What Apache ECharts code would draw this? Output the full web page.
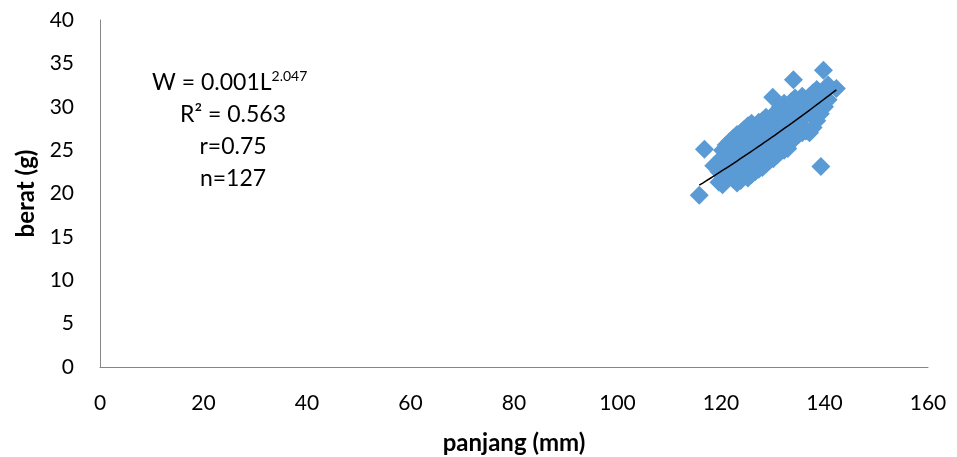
<!DOCTYPE html>
<html>
<head>
<meta charset="utf-8">
<script src="https://cdn.jsdelivr.net/npm/echarts@6/dist/echarts.min.js"></script>
<style>
  html, body { margin: 0; padding: 0; background: #fff; }
  #chart { width: 957px; height: 457px; }
</style>
</head>
<body>
<div id="chart"></div>
<script>
// Body length (mm) and weight (g) of each measured specimen, n = 127
const panjang = [
  115.8, 116.8, 118.6, 139.3, 134.0, 139.8, 142.3, 130.0,
  119.6, 119.6, 119.6,
  120.3, 120.3, 120.3, 120.3,
  121.0, 121.0, 121.0, 121.0,
  121.7, 121.7, 121.7, 121.7,
  122.4, 122.4, 122.4, 122.4,
  123.1, 123.1, 123.1, 123.1,
  123.8, 123.8, 123.8, 123.8, 123.8,
  124.5, 124.5, 124.5, 124.5,
  125.2, 125.2, 125.2, 125.2, 125.2,
  125.9, 125.9, 125.9, 125.9, 125.9,
  126.6, 126.6, 126.6, 126.6,
  127.3, 127.3, 127.3, 127.3, 127.3,
  128.0, 128.0, 128.0, 128.0, 128.0,
  128.7, 128.7, 128.7, 128.7,
  129.4, 129.4, 129.4, 129.4,
  130.1, 130.1, 130.1, 130.1,
  130.8, 130.8, 130.8, 130.8, 130.8,
  131.5, 131.5, 131.5, 131.5,
  132.2, 132.2, 132.2, 132.2, 132.2,
  132.9, 132.9, 132.9, 132.9,
  133.6, 133.6, 133.6, 133.6,
  134.3, 134.3, 134.3, 134.3,
  135.0, 135.0, 135.0,
  135.7, 135.7, 135.7, 135.7,
  136.4, 136.4, 136.4,
  137.1, 137.1, 137.1,
  137.8, 137.8, 137.8,
  138.5, 138.5, 138.5,
  139.2, 139.2,
  140.0, 140.0,
  140.7, 140.7
];
const berat = [
  19.8, 25.1, 23.2, 23.1, 33.1, 34.2, 32.1, 31.1,
  21.3, 22.5, 23.6,
  21.0, 22.0, 24.2, 25.0,
  21.5, 23.0, 24.0, 25.6,
  22.0, 23.4, 24.6, 26.0,
  21.6, 22.8, 25.3, 26.4,
  21.2, 22.3, 24.8, 26.8,
  21.5, 23.0, 24.2, 25.5, 27.0,
  22.0, 23.2, 26.0, 27.4,
  21.8, 22.8, 25.2, 26.6, 27.8,
  22.2, 23.5, 24.8, 26.0, 28.1,
  22.5, 23.8, 26.4, 27.6,
  22.8, 24.2, 25.5, 26.8, 28.2,
  23.0, 24.5, 25.8, 27.2, 28.4,
  23.4, 24.8, 27.5, 28.8,
  23.8, 25.2, 26.5, 27.8,
  24.0, 25.4, 28.0, 29.0,
  24.4, 25.8, 27.2, 28.5, 29.5,
  24.8, 26.2, 28.8, 30.0,
  25.0, 26.5, 28.0, 29.2, 30.4,
  25.2, 27.0, 28.4, 29.8,
  26.0, 27.4, 28.8, 30.6,
  26.4, 28.0, 29.5, 31.0,
  26.8, 28.4, 30.0,
  27.0, 28.8, 30.4, 31.2,
  27.2, 29.0, 30.8,
  27.0, 29.4, 31.2,
  27.6, 30.0, 31.6,
  28.4, 30.4, 32.0,
  29.2, 31.0,
  30.0, 31.8,
  30.8, 32.5
];

// Fitted power curve W = a * L^b (a shown rounded to 0.001 in the label)
const trendA = 0.00125;
const trendB = 2.047;

const statLines = ['R\u00B2 = 0.563', 'r=0.75', 'n=127'];

const points = panjang.map((x, i) => [x, berat[i]]);
const xMin = Math.min(...panjang), xMax = Math.max(...panjang);
const trend = [];
for (let k = 0; k <= 40; k++) {
  const L = xMin + (xMax - xMin) * k / 40;
  trend.push([L, trendA * Math.pow(L, trendB)]);
}

const FONT = 'Lato';
const chart = echarts.init(document.getElementById('chart'), null, { renderer: 'canvas' });
chart.setOption({
  animation: false,
  backgroundColor: '#ffffff',
  grid: { left: 100, right: 29, top: 20, bottom: 90, containLabel: false, outerBoundsMode: 'none' },
  xAxis: {
    type: 'value', min: 0, max: 160, interval: 20,
    name: 'panjang (mm)', nameLocation: 'middle', nameGap: 64,
    nameTextStyle: { fontFamily: FONT, fontSize: 24, fontWeight: 'bold', color: '#000' },
    axisLine: { show: true, lineStyle: { color: '#868686', width: 1 } },
    axisTick: { show: false },
    splitLine: { show: false },
    axisLabel: { fontFamily: FONT, fontSize: 21, color: '#000', margin: 26 }
  },
  yAxis: {
    type: 'value', min: 0, max: 40, interval: 5,
    name: 'berat (g)', nameLocation: 'middle', nameGap: 62, nameRotate: 90,
    nameTextStyle: { fontFamily: FONT, fontSize: 24, fontWeight: 'bold', color: '#000' },
    axisLine: { show: true, lineStyle: { color: '#868686', width: 1 } },
    axisTick: { show: false },
    splitLine: { show: false },
    axisLabel: { fontFamily: FONT, fontSize: 21, color: '#000', margin: 26 }
  },
  series: [
    {
      type: 'scatter',
      data: points,
      symbol: 'diamond',
      symbolSize: 19,
      itemStyle: { color: '#5B9BD5', opacity: 1 },
      z: 2
    },
    {
      type: 'line',
      data: trend,
      showSymbol: false,
      smooth: false,
      lineStyle: { color: '#000', width: 1.5 },
      z: 3
    }
  ],
  graphic: [
    {
      type: 'text',
      style: {
        x: 152, y: 83,
        text: '{b|W = 0.001L}{s|2.047}',
        align: 'left', verticalAlign: 'middle',
        rich: {
          b: { fontFamily: FONT, fontSize: 23, fill: '#000' },
          s: { fontFamily: FONT, fontSize: 14, fill: '#000', padding: [0, 0, 13, 0] }
        }
      }
    },
    ...statLines.map((t, i) => ({
      type: 'text',
      style: {
        x: 233, y: 115 + i * 31.7,
        text: t, align: 'center', verticalAlign: 'middle',
        fontFamily: FONT, fontSize: 23, fill: '#000'
      }
    }))
  ]
});
</script>
</body>
</html>
